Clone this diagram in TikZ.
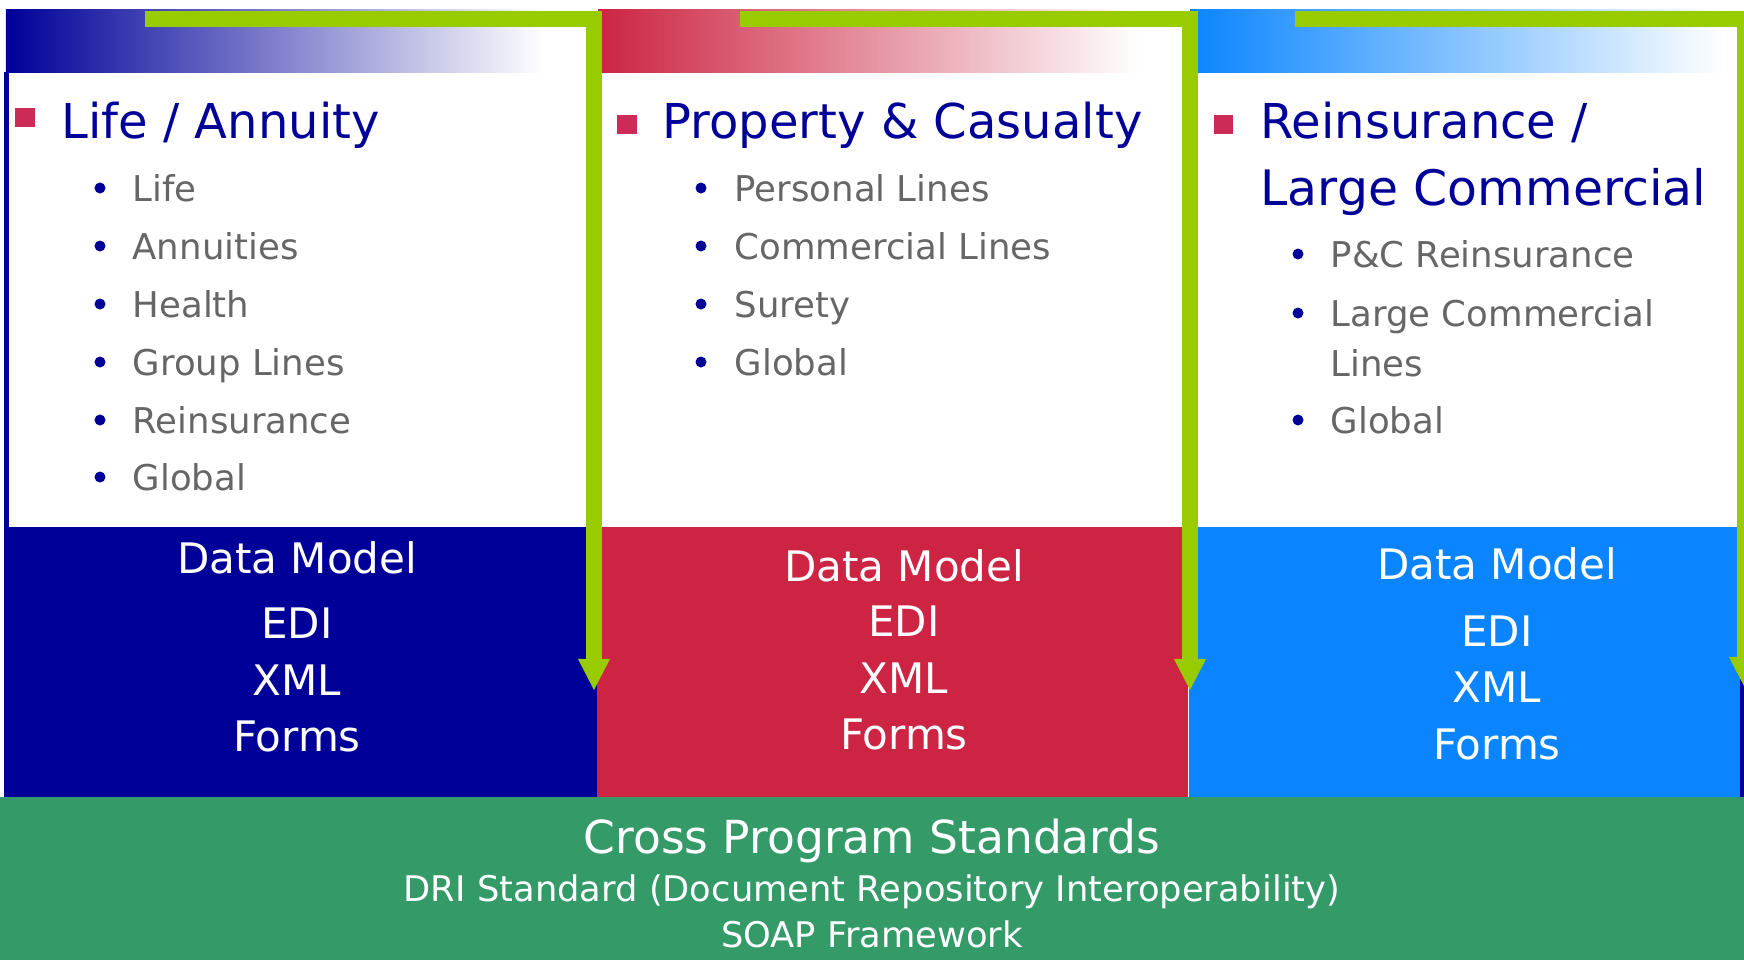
\documentclass[tikz,border=0pt]{standalone}
\usepackage{fontspec}
\setmainfont{DejaVu Sans}
\usetikzlibrary{arrows.meta}

\definecolor{navyband}{HTML}{000099}
\definecolor{redband}{HTML}{CC2442}
\definecolor{skyband}{HTML}{0A85FF}
\definecolor{stdgreen}{HTML}{349A68}
\definecolor{flowgreen}{HTML}{99CC00}
\definecolor{itemgray}{HTML}{666666}
\definecolor{sqpink}{HTML}{CC2B57}

\begin{document}
\begin{tikzpicture}[x=0.01cm, y=-0.01cm,
	headtitle/.style={anchor=base west, inner sep=0pt, text=navyband, font=\fontsize{13.66}{16}\selectfont},
	subitem/.style={anchor=base west, inner sep=0pt, text=itemgray, font=\fontsize{10.1}{12}\selectfont},
	bandtext/.style={anchor=base, inner sep=0pt, text=white, font=\fontsize{11.95}{14}\selectfont},
	titlesq/.style={fill=sqpink, inner sep=0pt, minimum size=0.19cm},
	itemdot/.style={circle, fill=navyband, inner sep=0pt, minimum size=0.11cm},
	flowarrow/.style={draw=flowgreen, line width=1.6mm, line join=miter,
		-{Triangle[width=3.2mm, length=3.1mm, line width=0pt]}}]

\useasboundingbox (0,0) rectangle (1744,960);
\fill[white] (0,0) rectangle (1744,960);

% ==== headers ====
\shade[left color=navyband, right color=white] (6,9) rectangle (545,72);
\shade[left color=redband, right color=white] (598,9) rectangle (1140,72);
\shade[left color=skyband, right color=white] (1190,9) rectangle (1725,72);

% ==== bands ====
\fill[navyband] (4,527) rectangle (597,797);
\fill[redband] (597,527) rectangle (1188,797);
\fill[skyband] (1189,527) rectangle (1741,797);
\fill[stdgreen] (0,797) rectangle (1744,960);
\draw[navyband, line width=0.4mm] (6.5,72) -- (6.5,527);
\draw[navyband, line width=0.4mm] (1742,72) -- (1742,797);

% ==== Left: Life / Annuity ====
\node[titlesq] (sq1) at (25,117) {};
\node[headtitle] (t1) at (61,138) {Life / Annuity};
\foreach \txt/\yy [count=\i] in {Life/201, Annuities/259, Health/317,
	Group Lines/375, Reinsurance/433, Global/490}{
	\node[itemdot] (ld\i) at (100,\yy-13) {};
	\node[subitem] (li\i) at (132,\yy) {\txt};
}
\node[bandtext] (ldm) at (297,573) {Data Model};
\node[bandtext] (ledi) at (297,638) {EDI};
\node[bandtext] (lxml) at (297,695) {XML};
\node[bandtext] (lfrm) at (297,751) {Forms};

% ==== Middle: Property & Casualty ====
\node[titlesq] (sq2) at (627,124) {};
\node[headtitle] (t2) at (662,138) {Property \& Casualty};
\foreach \txt/\yy [count=\i] in {Personal Lines/201, Commercial Lines/259,
	Surety/317, Global/375}{
	\node[itemdot] (md\i) at (701,\yy-13) {};
	\node[subitem] (mi\i) at (734,\yy) {\txt};
}
\node[bandtext] (mdm) at (904,581) {Data Model};
\node[bandtext] (medi) at (904,636) {EDI};
\node[bandtext] (mxml) at (904,693) {XML};
\node[bandtext] (mfrm) at (904,749) {Forms};

% ==== Right: Reinsurance / Large Commercial ====
\node[titlesq] (sq3) at (1223,124) {};
\node[headtitle] (t3a) at (1260,138) {Reinsurance /};
\node[headtitle, font=\fontsize{13.9}{16}\selectfont] (t3b) at (1260,205) {Large Commercial};
\node[itemdot] (rd1) at (1298,254) {};
\node[subitem] (ri1) at (1330,267) {P\&C Reinsurance};
\node[itemdot] (rd2) at (1298,313) {};
\node[subitem] (ri2) at (1330,326) {Large Commercial};
\node[subitem] (ri2b) at (1330,376) {Lines};
\node[itemdot] (rd3) at (1298,420) {};
\node[subitem] (ri3) at (1330,433) {Global};
\node[bandtext] (rdm) at (1497,579) {Data Model};
\node[bandtext] (redi) at (1497,646) {EDI};
\node[bandtext] (rxml) at (1497,702) {XML};
\node[bandtext] (rfrm) at (1497,759) {Forms};

% ==== cross program standards ====
\node[bandtext, font=\fontsize{12.95}{15}\selectfont] (cps) at (872,853) {Cross Program Standards};
\node[bandtext, font=\fontsize{10.04}{12}\selectfont] (dri) at (872,901) {DRI Standard (Document Repository Interoperability)};
\node[bandtext, font=\fontsize{10.04}{12}\selectfont] (soap) at (872,947) {SOAP Framework};

% ==== flow arrows ====
\coordinate (f1s) at (145,19);
\coordinate (f1c) at (594,19);
\coordinate (f1e) at (594,690);
\coordinate (f2s) at (740,19);
\coordinate (f2c) at (1190,19);
\coordinate (f2e) at (1190,690);
\coordinate (f3s) at (1295,19);
\coordinate (f3c) at (1745,19);
\coordinate (f3e) at (1745,688);
\draw[flowarrow] (f1s) -- (f1c) -- (f1e);
\draw[flowarrow] (f2s) -- (f2c) -- (f2e);
\draw[flowarrow] (f3s) -- (f3c) -- (f3e);

\end{tikzpicture}
\end{document}
